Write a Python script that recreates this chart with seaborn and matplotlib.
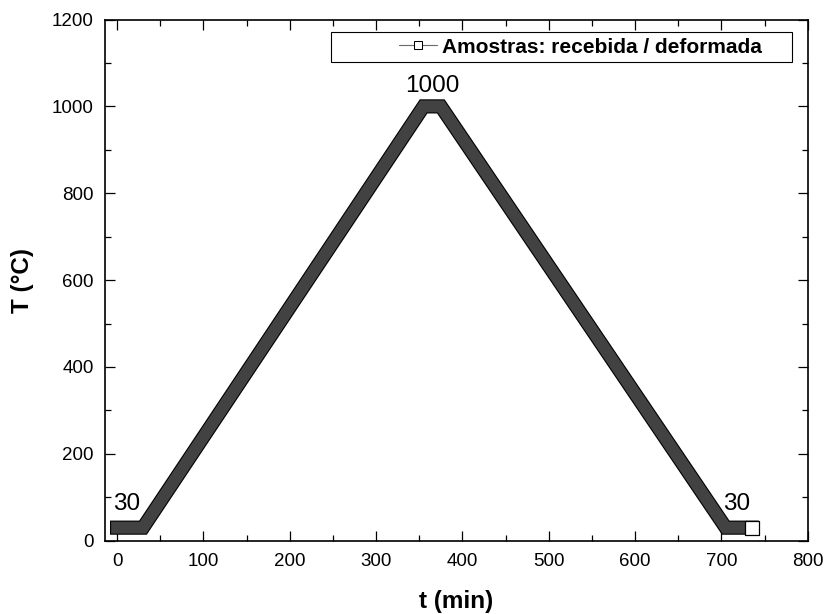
import matplotlib
matplotlib.use("Agg")
import matplotlib.pyplot as plt
import matplotlib.patheffects as pe
import seaborn as sns
import pandas as pd
from matplotlib.lines import Line2D
from matplotlib.patches import Rectangle
from matplotlib.ticker import MultipleLocator

# Data (breakpoints of the thermal cycle)
time_min = [0, 30, 355, 375, 705, 735]
temp_c = [30, 30, 1000, 1000, 30, 30]
legend_label = "Amostras: recebida / deformada"
x_label = "t (min)"
y_label = "T (°C)"
x_ticks = [0, 100, 200, 300, 400, 500, 600, 700, 800]
y_ticks = [0, 200, 400, 600, 800, 1000, 1200]

sns.set_theme(style="ticks")
plt.rcParams["font.family"] = ["Liberation Sans", "DejaVu Sans"]
plt.rcParams["text.color"] = "black"
plt.rcParams["axes.labelcolor"] = "black"
plt.rcParams["xtick.color"] = "black"
plt.rcParams["ytick.color"] = "black"

fig = plt.figure(figsize=(8.27, 6.14), dpi=100)
ax = fig.add_axes([0.127, 0.1194, 0.8497, 0.8488])

df = pd.DataFrame({"t": time_min, "T": temp_c})
band_lw = 8.6
# dense overlapping open squares rendered as a dark band with black outline
sns.lineplot(data=df, x="t", y="T", ax=ax, color="#424242", linewidth=band_lw,
             solid_joinstyle="miter", solid_capstyle="projecting",
             sort=False, legend=False,
             path_effects=[pe.Stroke(linewidth=band_lw + 1.6, foreground="black"),
                           pe.Normal()])
# last sample shows as a clean open square
sns.scatterplot(x=time_min[-1:], y=temp_c[-1:], ax=ax, marker="s", s=88,
                facecolor="white", edgecolor="black", linewidth=0.9,
                zorder=5, legend=False)

ax.set_xlim(-14, 800)
ax.set_ylim(0, 1200)
ax.set_xticks(x_ticks)
ax.set_yticks(y_ticks)
ax.xaxis.set_minor_locator(MultipleLocator(50))
ax.yaxis.set_minor_locator(MultipleLocator(100))
ax.tick_params(which="both", direction="in", top=True, right=True,
               colors="black", width=0.9)
ax.tick_params(which="major", length=7, labelsize=13.5)
ax.tick_params(axis="y", which="major", pad=8)
ax.tick_params(axis="x", which="major", pad=9)
ax.tick_params(which="minor", length=4)
for sp in ax.spines.values():
    sp.set_visible(True)
    sp.set_linewidth(1.2)
    sp.set_color("black")
    sp.set_zorder(6)

ax.set_xlabel(x_label, fontsize=17.5, fontweight="bold", labelpad=14)
ax.set_ylabel(y_label, fontsize=17.5, fontweight="bold", labelpad=13)

# Annotations at breakpoints
ax.annotate(str(temp_c[0]), xy=(time_min[0], temp_c[0]), xytext=(6.8, 17.0),
            textcoords="offset points", ha="center", va="center", fontsize=17.5)
ax.annotate(str(temp_c[2]), xy=((time_min[2] + time_min[3]) / 2, temp_c[2]),
            xytext=(0, 15.0), textcoords="offset points", ha="center",
            va="center", fontsize=17.5)
ax.annotate(str(temp_c[-1]), xy=(time_min[-1], temp_c[-1]), xytext=(-10.6, 17.0),
            textcoords="offset points", ha="center", va="center", fontsize=17.5)

# Legend (Origin-style box with wide padding)
handle = Line2D([], [], color="dimgray", linewidth=0.8, marker="s", markersize=6,
                markerfacecolor="white", markeredgecolor="black",
                markeredgewidth=0.75)
leg = ax.legend([handle], [legend_label], loc="center right",
                bbox_to_anchor=(0.935, 0.9472), borderaxespad=0, borderpad=0,
                handlelength=1.83, handletextpad=0.25, frameon=False,
                prop={"weight": "bold", "size": 15})
ax.add_patch(Rectangle((0.3216, 0.9185), 0.656, 0.0576, transform=ax.transAxes,
                       fill=False, edgecolor="black", linewidth=0.8,
                       zorder=4, clip_on=False))

fig.savefig("out.png", dpi=100)
